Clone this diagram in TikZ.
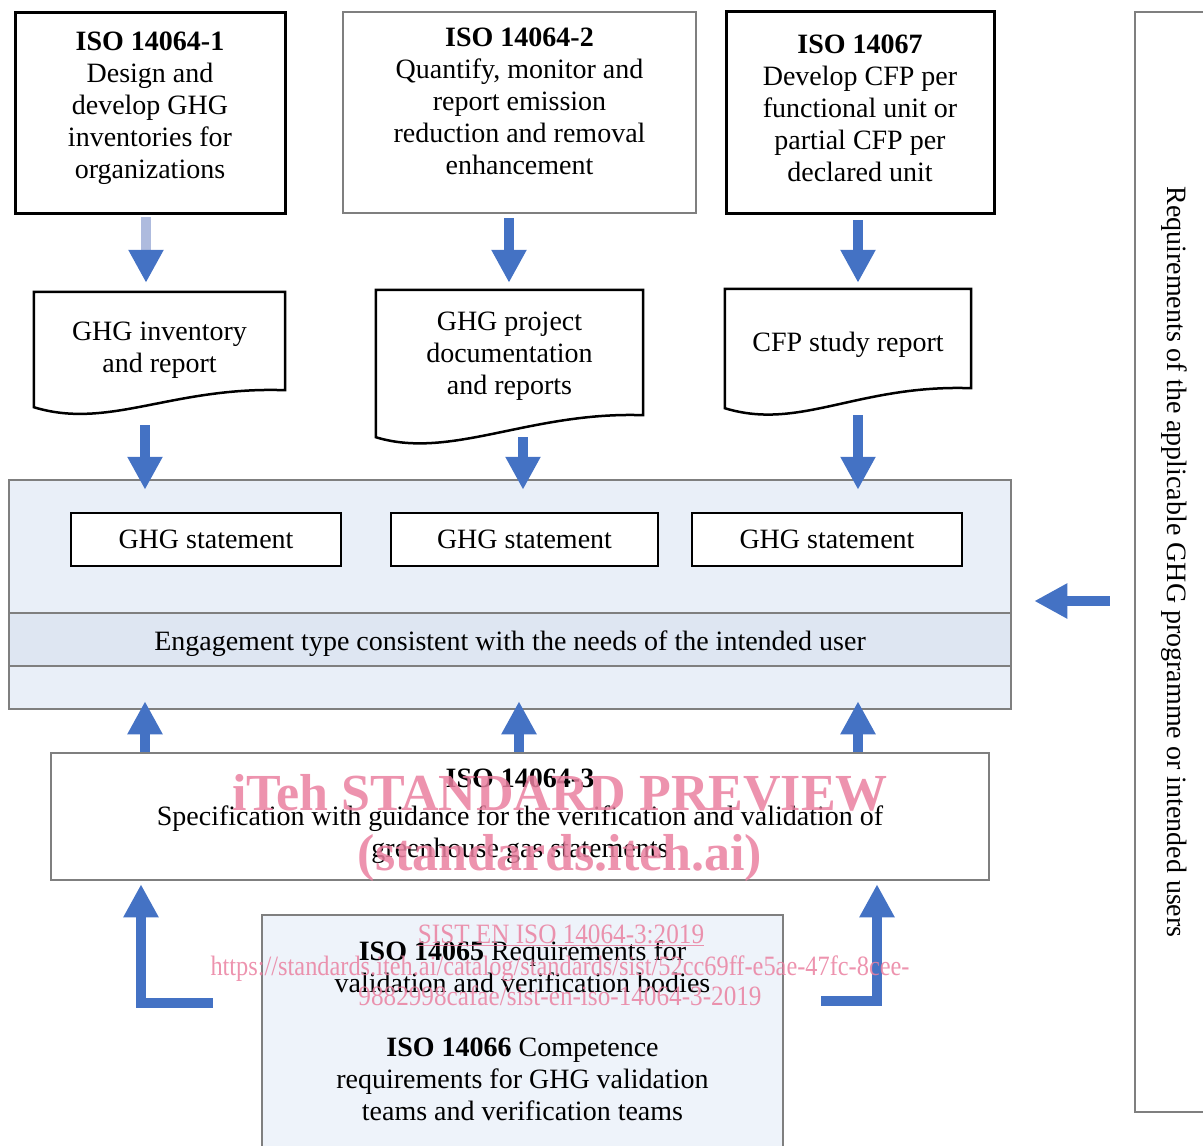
\documentclass[tikz,border=0pt]{standalone}
\usepackage{fontspec}
\setmainfont{Liberation Serif}
\usepackage{graphicx}
\usetikzlibrary{arrows.meta,positioning}
\definecolor{arrowblue}{RGB}{68,114,196}
\definecolor{lightshaft}{RGB}{174,187,222}
\definecolor{boxgray}{RGB}{127,127,127}
\definecolor{panelfill}{RGB}{233,239,248}
\definecolor{bandfill}{RGB}{222,230,242}
\definecolor{bodyfill}{RGB}{238,243,250}
\definecolor{wmpink}{RGB}{234,128,160}

\begin{document}
\begin{tikzpicture}[%
x=1pt, y=-1pt,
on grid,
align=center,
font=\fontsize{28}{32}\selectfont,
isobox/.style={rectangle, draw=black, line width=3pt, inner sep=0pt},
greybox/.style={rectangle, draw=boxgray, line width=2.5pt, inner sep=0pt},
docbox/.style={rectangle, inner sep=0pt},
stmt/.style={rectangle, draw=black, fill=white, line width=2.5pt, minimum width=270pt, minimum height=53pt},
blockarrow/.style={arrowblue, line width=10pt, -{Triangle[width=33pt,length=33pt]}},
wmark/.style={text=wmpink, text opacity=0.85, anchor=base, inner sep=0pt}
]
\useasboundingbox (0,0) rectangle (1203,1146);
\clip (0,0) rectangle (1203,1146);

\node[isobox, minimum width=270pt, minimum height=201pt] (0) at (150,112.5) {\textbf{ISO 14064-1}\\Design and\\develop GHG\\inventories for\\organizations\\[-18pt]\mbox{}};
\node[greybox, minimum width=353pt, minimum height=201pt] (1) [right=369.5pt of 0] {\textbf{ISO 14064-2}\\Quantify, monitor and\\report emission\\reduction and removal\\enhancement\\[-10pt]\mbox{}};
\node[isobox, minimum width=268pt, minimum height=202pt] (2) [right=340.5pt of 1] {\textbf{ISO 14067}\\Develop CFP per\\functional unit or\\partial CFP per\\declared unit\\[-24pt]\mbox{}};

\node[docbox, minimum width=251pt, minimum height=98pt] (3) at (159.5,341) {\mbox{}\\[4.5pt]GHG inventory\\and report};
\node[docbox, minimum width=267pt, minimum height=125pt] (4) at (509.5,352.5) {\mbox{}\\[-5.5pt]GHG project\\documentation\\and reports};
\node[docbox, minimum width=246pt, minimum height=99pt] (5) at (848,338.5) {\mbox{}\\CFP study report};
\foreach \n/\d in {3/17,4/22,5/20}
  \draw[line width=2.5pt] (\n.south east) -- (\n.north east) -- (\n.north west) -- ([yshift=-\d pt]\n.south west) .. controls +(75,23) and +(-113,-4) .. (\n.south east) -- cycle;

\node[greybox, fill=panelfill, minimum width=1002pt, minimum height=229pt] (6) at (510,594.5) {};
\node[greybox, fill=bandfill, minimum width=1002pt, minimum height=53pt] (7) at (510,639.5) {\raisebox{-4pt}[\height][\depth]{Engagement type consistent with the needs of the intended user}};
\node[stmt] (8) at (206,539.5) {GHG statement};
\node[stmt, minimum width=267pt] (9) [right=318.5pt of 8] {GHG statement};
\node[stmt] (10) [right=302.5pt of 9] {GHG statement};

\node[greybox, minimum width=938pt, minimum height=127pt] (11) at (520,816.5) {\textbf{ISO 14064-3}\\[6pt]Specification with guidance for the verification and validation of\\greenhouse gas statements};
\node[greybox, fill=bodyfill, minimum width=521pt, minimum height=245pt] (12) at (522.5,1037.5) {\textbf{ISO 14065} Requirements for\\validation and verification bodies\\[32pt]\textbf{ISO 14066} Competence\\requirements for GHG validation\\teams and verification teams\\[-18pt]\mbox{}};
\node[greybox, rotate=-90, minimum width=1100pt, minimum height=78pt] (13) at (1174,562) {Requirements of the applicable GHG programme or intended users};

\draw[blockarrow, lightshaft, -{Triangle[width=33pt,length=33pt,color=arrowblue]}, shorten <=2pt, shorten >=9pt] ([xshift=-4pt]0.south) -- ([xshift=-4pt]0.south |- 3.north);
\draw[blockarrow, shorten <=4pt, shorten >=7pt] ([xshift=-10.5pt]1.south) -- ([xshift=-10.5pt]1.south |- 4.north);
\draw[blockarrow, shorten <=5pt, shorten >=6pt] ([xshift=-2pt]2.south) -- ([xshift=-2pt]2.south |- 5.north);
\foreach \n/\dx/\s in {3/-14.5/35,4/13.5/22,5/10/27}
  \draw[blockarrow, shorten <=\s pt, shorten >=-11pt] ([xshift=\dx pt]\n.south) -- ([xshift=\dx pt]\n.south |- 6.north);
\draw[blockarrow, shorten <=24pt, shorten >=22pt] ([yshift=-6.5pt]6.east -| 13.south) -- ([yshift=-6.5pt]6.east);
\foreach \dx in {-375,-1,338}
  \draw[blockarrow, shorten >=-9pt] ([xshift=\dx pt]11.north) -- ([xshift=\dx pt]11.north |- 6.south);
\draw[blockarrow, line join=miter, shorten >=3pt] ([xshift=-48pt,yshift=35pt]12.west) -| ([xshift=-379pt]11.south);
\draw[blockarrow, line join=miter, shorten >=3pt] ([xshift=37pt,yshift=37pt]12.east) -| ([xshift=357pt]11.south);

\node[wmark, font=\bfseries\fontsize{52}{60}\selectfont] (w1) at (560,810) {iTeh STANDARD PREVIEW};
\node[wmark, font=\bfseries\fontsize{52}{60}\selectfont] (w2) at (560,870) {(standards.iteh.ai)};
\node[wmark, font=\fontsize{28}{31}\selectfont] (w3) at (561,943) {\scalebox{0.9}[1]{\underline{SIST EN ISO 14064-3:2019}}};
\node[wmark, font=\fontsize{28}{31}\selectfont] (w4) at (560,975) {\scalebox{0.87}[1]{https://standards.iteh.ai/catalog/standards/sist/52cc69ff-e5ae-47fc-8cee-}};
\node[wmark, font=\fontsize{28}{31}\selectfont] (w5) at (560,1005) {\scalebox{0.9}[1]{9882998cafae/sist-en-iso-14064-3-2019}};
\end{tikzpicture}
\end{document}
